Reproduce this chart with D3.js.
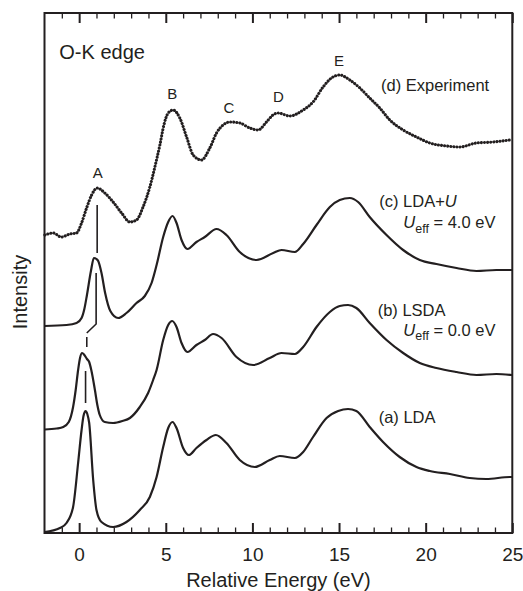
<!DOCTYPE html>
<html>
<head>
<meta charset="utf-8">
<style>
    body {
        margin: 0;
        background: #fff;
    }
    svg text {
        font-family: "Liberation Sans", Arial, Helvetica, sans-serif;
        fill: #231f20;
    }
</style>
<script src="https://d3js.org/d3.v7.min.js"></script>
</head>
<body>
<svg id="chart"></svg>
<script>
    // spectra: [energy (eV), intensity (arb. units, offsets included)]
    var lda = [[-2, 1], [-1.11, 5], [-0.73, 10], [-0.35, 26], [-0.06, 70], [0.14, 103], [0.25, 117],
        [0.37, 122], [0.47, 119], [0.58, 110], [0.81, 53], [1.0, 23], [1.29, 11], [1.96, 6], [2.73, 11],
        [3.5, 23], [4.08, 36], [4.47, 56], [4.85, 86], [5.14, 105], [5.39, 111], [5.62, 105], [6.0, 85],
        [6.33, 78], [6.77, 85], [7.35, 93], [7.89, 98], [8.5, 90], [9.27, 73], [10.14, 66], [11.0, 73],
        [11.58, 77], [12.45, 75], [12.93, 81], [13.5, 96], [14.28, 115], [14.95, 122], [15.52, 124],
        [16.0, 122], [16.77, 106], [17.54, 91], [18.5, 76], [19.47, 66], [20.24, 62], [21.4, 59],
        [22.54, 55], [23.5, 54], [24.85, 56], [25, 56]];

    var lsda = [[-2, 103.5], [-1.3, 104.5], [-0.92, 106], [-0.6, 111], [-0.35, 126], [-0.2, 143],
        [-0.06, 163], [0.05, 175], [0.17, 180], [0.3, 178], [0.45, 174], [0.58, 171], [0.7, 163],
        [0.91, 143], [1.05, 128], [1.19, 118], [1.48, 111], [1.96, 110], [2.5, 112], [2.93, 115],
        [3.5, 126], [3.98, 140], [4.27, 153], [4.47, 163], [4.85, 193], [5.14, 208], [5.37, 212],
        [5.62, 206], [5.91, 190], [6.25, 181], [6.77, 188], [7.25, 193], [7.73, 199], [8.22, 195],
        [9.08, 176], [10.04, 168], [11.0, 175], [11.68, 180], [12.45, 179], [12.93, 186], [13.7, 206],
        [14.47, 221], [15.04, 227], [15.52, 228], [16.0, 225], [16.77, 210], [17.74, 193], [18.7, 180],
        [19.66, 170], [20.62, 165], [21.78, 161], [22.93, 158], [24.08, 159], [25, 158]];

    var ldaU = [[-2, 207], [-0.73, 208], [-0.15, 210], [0.14, 215], [0.3, 224], [0.45, 238], [0.68, 262],
        [0.85, 275], [1.0, 274], [1.1, 272], [1.29, 260], [1.5, 240], [1.8, 222], [2.25, 215], [2.73, 220],
        [3.31, 230], [3.79, 237], [4.18, 250], [4.47, 268], [4.85, 296], [5.14, 311], [5.39, 317],
        [5.62, 310], [5.91, 293], [6.25, 284], [6.77, 291], [7.25, 296], [7.93, 304], [8.5, 298],
        [9.27, 281], [10.24, 273], [11.2, 280], [11.68, 283], [12.45, 281], [12.93, 289], [13.7, 308],
        [14.47, 326], [15.04, 333], [15.62, 335], [16.1, 331], [16.77, 316], [17.74, 298], [18.7, 283],
        [19.66, 273], [20.62, 269], [21.78, 265], [22.93, 262], [24.08, 263], [25, 263]];

    var experiment = [[-1.98, 298], [-1.5, 300], [-1.02, 296], [-0.54, 299], [-0.15, 300], [0.14, 310],
        [0.43, 325], [0.72, 338], [1.04, 345], [1.48, 340], [1.96, 331], [2.45, 320], [2.93, 311],
        [3.31, 313], [3.69, 326], [4.08, 346], [4.37, 366], [4.66, 388], [4.89, 408], [5.14, 420],
        [5.43, 423], [5.81, 415], [6.2, 396], [6.58, 378], [7.06, 373], [7.54, 385], [7.93, 400],
        [8.31, 408], [8.7, 411], [9.27, 410], [9.85, 405], [10.33, 403], [10.81, 411], [11.19, 418],
        [11.48, 420], [12.16, 417], [12.93, 423], [13.5, 431], [14.08, 446], [14.56, 455], [15.04, 458],
        [15.62, 453], [16.2, 445], [16.77, 435], [17.35, 425], [17.93, 413], [18.7, 403], [19.47, 396],
        [20.24, 390], [21.2, 387], [21.97, 386], [22.93, 390], [23.89, 391], [24.85, 393]];

    // guide lines tracking peak A between spectra
    var guideLines = [
        [[1.04, 328], [1.04, 280]],
        [[0.98, 260], [0.98, 209], [0.44, 200]],
        [[0.44, 196], [0.44, 186]],
        [[0.37, 162], [0.37, 130]]
    ];

    var peakNames = ["A", "B", "C", "D", "E"];
    var peakEnergy = [1.07, 5.38, 8.64, 11.5, 15.0];
    var peakLabelLevel = [355, 434, 420, 431, 467];

    var majorTicks = [0, 5, 10, 15, 20, 25];
    var minorTicks = d3.range(-1, 25).filter(function (d) { return d % 5 !== 0; });

    var width = 523, height = 591;
    var svg = d3.select("#chart").attr("width", width).attr("height", height);

    var x = d3.scaleLinear().domain([-2, 25]).range([44.5, 512.3]);
    var y = d3.scaleLinear().domain([0, 520]).range([533, 13]);

    var ink = "#231f20";

    // ticks (inward), bottom with labels, top without
    var bottomMajor = svg.append("g").attr("transform", "translate(0,533)")
        .call(d3.axisBottom(x).tickValues(majorTicks).tickSize(-10).tickPadding(15).tickFormat(d3.format("d")));
    var bottomMinor = svg.append("g").attr("transform", "translate(0,533)")
        .call(d3.axisBottom(x).tickValues(minorTicks).tickSize(-5.5).tickFormat(""));
    var topMajor = svg.append("g").attr("transform", "translate(0,13)")
        .call(d3.axisTop(x).tickValues(majorTicks).tickSize(-10).tickFormat(""));
    var topMinor = svg.append("g").attr("transform", "translate(0,13)")
        .call(d3.axisTop(x).tickValues(minorTicks).tickSize(-5.5).tickFormat(""));

    [bottomMajor, bottomMinor, topMajor, topMinor].forEach(function (g) {
        g.select(".domain").remove();
        g.selectAll("line").attr("stroke", ink);
    });
    bottomMajor.selectAll("line").attr("stroke-width", 2);
    topMajor.selectAll("line").attr("stroke-width", 2);
    bottomMinor.selectAll("line").attr("stroke-width", 1.3);
    topMinor.selectAll("line").attr("stroke-width", 1.3);
    bottomMajor.selectAll("text")
        .attr("fill", ink)
        .style("font-size", "19px")
        .style("font-family", "'Liberation Sans', Arial, sans-serif");

    // frame
    svg.append("rect")
        .attr("x", x(-2)).attr("y", y(520))
        .attr("width", x(25) - x(-2)).attr("height", y(0) - y(520))
        .attr("fill", "none").attr("stroke", ink).attr("stroke-width", 2);

    var line = d3.line()
        .x(function (d) { return x(d[0]); })
        .y(function (d) { return y(d[1]); })
        .curve(d3.curveMonotoneX);

    [lda, lsda, ldaU].forEach(function (s) {
        svg.append("path")
            .attr("d", line(s))
            .attr("fill", "none")
            .attr("stroke", ink)
            .attr("stroke-width", 2.2)
            .attr("stroke-linejoin", "round");
    });

    // experiment drawn as a dotted trace
    svg.append("path")
        .attr("d", line(experiment))
        .attr("fill", "none")
        .attr("stroke", ink)
        .attr("stroke-width", 3.1)
        .attr("stroke-linecap", "round")
        .attr("stroke-dasharray", "0.01 3.1");

    var guide = d3.line().x(function (d) { return x(d[0]); }).y(function (d) { return y(d[1]); });
    guideLines.forEach(function (g) {
        svg.append("path")
            .attr("d", guide(g))
            .attr("fill", "none")
            .attr("stroke", ink)
            .attr("stroke-width", 1.6);
    });

    // peak letters
    svg.selectAll("text.peak")
        .data(peakNames)
        .enter().append("text")
        .attr("class", "peak")
        .attr("x", function (d, i) { return x(peakEnergy[i]); })
        .attr("y", function (d, i) { return y(peakLabelLevel[i]); })
        .attr("text-anchor", "middle")
        .style("font-size", "15px")
        .text(function (d) { return d; });

    svg.append("text")
        .attr("x", 59.3).attr("y", 59.3)
        .style("font-size", "20px")
        .text("O-K edge");

    function label(px, py, parts) {
        var t = svg.append("text").attr("x", px).attr("y", py).style("font-size", "16.5px");
        parts.forEach(function (p) {
            var s = t.append("tspan").text(p.text);
            if (p.italic) s.style("font-style", "italic");
            if (p.sub) s.style("font-size", "12.5px").attr("dy", 4.5);
            if (p.back) s.attr("dy", -4.5);
        });
    }

    label(381, 90.7, [{ text: "(d) Experiment" }]);
    label(379.3, 207.3, [{ text: "(c) LDA+" }, { text: "U", italic: true }]);
    label(403.3, 228.3, [{ text: "U", italic: true }, { text: "eff", sub: true }, { text: " = 4.0 eV", back: true }]);
    label(377.7, 315.7, [{ text: "(b) LSDA" }]);
    label(403.3, 335.7, [{ text: "U", italic: true }, { text: "eff", sub: true }, { text: " = 0.0 eV", back: true }]);
    label(378.7, 422.7, [{ text: "(a) LDA" }]);

    // axis titles
    svg.append("text")
        .attr("x", x(11.5)).attr("y", 587)
        .attr("text-anchor", "middle")
        .style("font-size", "20px")
        .text("Relative Energy (eV)");

    svg.append("text")
        .attr("transform", "translate(27,292) rotate(-90)")
        .attr("text-anchor", "middle")
        .style("font-size", "20px")
        .text("Intensity");
</script>
</body>
</html>
